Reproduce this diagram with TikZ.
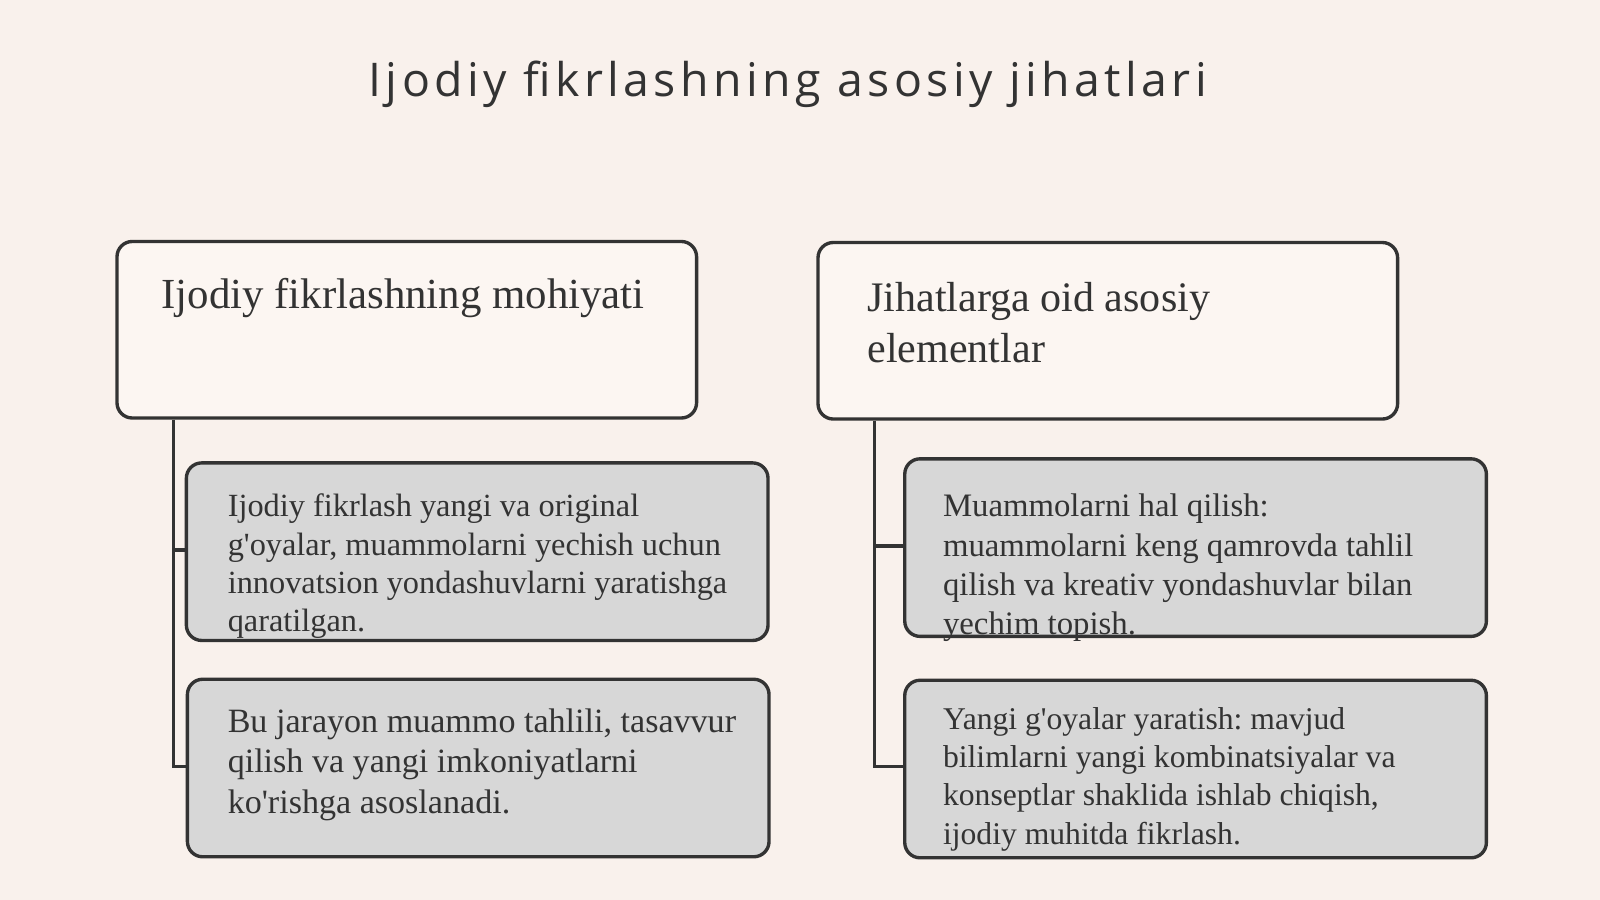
\documentclass[tikz,border=0pt]{standalone}
\usepackage{fontspec}
\setmainfont{Liberation Serif}[Ligatures=TeXOff]
\newfontfamily\titlefont{Open Sans}[LetterSpace=9.5]
\definecolor{bg}{HTML}{F9F1EC}
\definecolor{pfill}{HTML}{FCF6F2}
\definecolor{cfill}{HTML}{D7D7D7}
\definecolor{edge}{HTML}{333333}
\definecolor{ink}{HTML}{333333}
\frenchspacing
\begin{document}
\begin{tikzpicture}[x=1pt,y=-1pt,
  box/.style={draw=edge, line width=3.3pt, rounded corners=15pt, anchor=north west, inner sep=0pt},
  parent/.style={box, fill=pfill, minimum width=568pt, minimum height=173pt},
  child/.style={box, fill=cfill, minimum width=570pt, minimum height=174pt},
  ptext/.style={inner sep=0pt, align=left, text=ink},
  ctext/.style={anchor=north west, inner sep=0pt, align=left, text=ink},
  link/.style={draw=edge, line width=3.3pt}]
\fill[bg] (0,0) rectangle (1568,882);
\useasboundingbox (0,0) rectangle (1568,882);

\node[anchor=base, inner sep=0pt, text=ink, font=\titlefont\fontsize{45.5}{50}\selectfont] (title) at (772,95) {Ijodiy fikrlashning asosiy jihatlari};

\coordinate (lspine) at (170,0);
\coordinate (rspine) at (857,0);

\node[parent] (lp) at (113,235) {};
\node[parent] (rp) at (800,236) {};

\draw[link] (lp.south -| lspine) -- (lspine |- 0,751) -- (182,751);
\draw[link] (lspine |- 0,539) -- (181,539);
\draw[link] (rp.south -| rspine) -- (rspine |- 0,751) -- (885,751);
\draw[link] (rspine |- 0,535) -- (885,535);

\node[child] (lc1) at (181,452) {};
\node[child] (lc2) at (182,664) {};
\node[child] (rc1) at (885,448) {};
\node[child] (rc2) at (885,665) {};

\node[ptext, anchor=base west, font=\fontsize{42}{50}\selectfont] (lpt) at (158,302) {Ijodiy fikrlashning mohiyati};
\node[ptext, anchor=north west, font=\fontsize{41.2}{50}\selectfont] (rpt) at (850,276) {Jihatlarga oid asosiy\\elementlar};

\node[ctext, font=\fontsize{31.7}{37.5}\selectfont] (lc1t) at (223,484) {Ijodiy fikrlash yangi va original\\g'oyalar, muammolarni yechish uchun\\innovatsion yondashuvlarni yaratishga\\qaratilgan.};
\node[ctext, font=\fontsize{33.4}{40}\selectfont] (lc2t) at (223,694) {Bu jarayon muammo tahlili, tasavvur\\qilish va yangi imkoniyatlarni\\ko'rishga asoslanadi.};
\node[ctext, font=\fontsize{32.1}{38.5}\selectfont] (rc1t) at (924,484) {Muammolarni hal qilish:\\muammolarni keng qamrovda tahlil\\qilish va kreativ yondashuvlar bilan\\yechim topish.};
\node[ctext, font=\fontsize{31}{37.5}\selectfont] (rc2t) at (924,693) {Yangi g'oyalar yaratish: mavjud\\bilimlarni yangi kombinatsiyalar va\\konseptlar shaklida ishlab chiqish,\\ijodiy muhitda fikrlash.};
\end{tikzpicture}
\end{document}
